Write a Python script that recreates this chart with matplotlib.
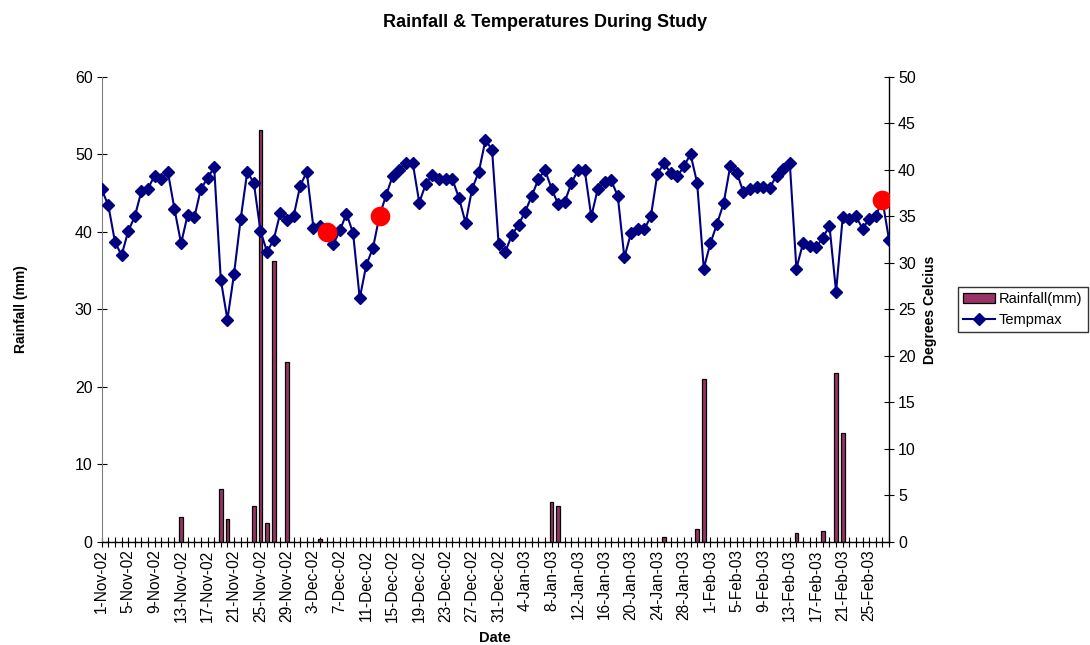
"""Rainfall bars and daily max temperature, Nov 2002 - Feb 2003."""

import matplotlib

matplotlib.use("Agg")
import matplotlib.pyplot as plt
import numpy as np
import pandas as pd

plt.rcParams["font.family"] = ["Liberation Sans", "DejaVu Sans"]

dates = pd.date_range("2002-11-01", "2003-02-28", freq="D")

tempmax = [
    37.9, 36.2, 32.3, 30.8, 33.4, 35.0, 37.7, 38.0, 39.4, 39.0,
    39.8, 35.8, 32.1, 35.2, 34.9, 38.0, 39.1, 40.3, 28.2, 23.9,
    28.8, 34.7, 39.8, 38.6, 33.4, 31.2, 32.5, 35.4, 34.6, 35.0,
    38.3, 39.8, 33.8, 34.0, 33.3, 32.0, 33.5, 35.3, 33.2, 26.2,
    29.8, 31.6, 35.1, 37.3, 39.4, 40.0, 40.8, 40.8, 36.5, 38.5,
    39.5, 39.0, 39.0, 39.0, 37.0, 34.3, 38.0, 39.8, 43.2, 42.2,
    32.0, 31.2, 33.0, 34.1, 35.5, 37.2, 39.0, 40.0, 38.0, 36.3,
    36.6, 38.6, 40.0, 40.0, 35.0, 38.0, 38.7, 38.9, 37.2, 30.6,
    33.2, 33.6, 33.6, 35.0, 39.6, 40.7, 39.7, 39.3, 40.4, 41.7,
    38.6, 29.4, 32.1, 34.2, 36.4, 40.4, 39.7, 37.6, 37.9, 38.2,
    38.2, 38.1, 39.4, 40.1, 40.8, 29.4, 32.1, 31.8, 31.7, 32.7,
    34.0, 26.9, 34.9, 34.7, 35.0, 33.7, 34.7, 35.0, 36.8, 32.5,
]

# days with recorded rain (all other days are 0 mm)
rain_dates = [
    "2002-11-13", "2002-11-19", "2002-11-20", "2002-11-24", "2002-11-25",
    "2002-11-26", "2002-11-27", "2002-11-29", "2002-12-04", "2003-01-08",
    "2003-01-09", "2003-01-25", "2003-01-30", "2003-01-31", "2003-02-14",
    "2003-02-18", "2003-02-20", "2003-02-21",
]
rain_mm = [
    3.2, 6.8, 3.0, 4.6, 53.2,
    2.4, 36.2, 23.2, 0.3, 5.2,
    4.6, 0.6, 1.6, 21.0, 1.2,
    1.4, 21.8, 14.0,
]

# highlighted days on the temperature line
marked_dates = ["2002-12-05", "2002-12-13", "2003-02-27"]


def main() -> None:
    x = np.arange(len(dates))
    rain = pd.Series(0.0, index=dates)
    rain[pd.to_datetime(rain_dates)] = rain_mm
    temp = pd.Series(tempmax, index=dates)
    marked_idx = [dates.get_loc(pd.Timestamp(d)) for d in marked_dates]

    fig = plt.figure(figsize=(10.9, 6.45), dpi=100)
    ax = fig.add_axes([0.0933, 0.16, 0.7223, 0.7206])
    ax2 = ax.twinx()

    ax.bar(x, rain.values, width=0.55, color="#993366", edgecolor="black",
           linewidth=0.9, label="Rainfall(mm)", zorder=2)
    ax2.plot(x, temp.values, color="#000080", marker="D", markersize=6,
             linewidth=1.5, label="Tempmax", zorder=3)
    ax2.scatter(x[marked_idx], temp.values[marked_idx], s=200, color="#ff0000",
                zorder=4, linewidths=0)

    ax.set_xlim(0, len(dates) - 1)
    ax.set_ylim(0, 60)
    ax2.set_ylim(0, 50)
    ax.set_yticks(np.arange(0, 61, 10))
    ax2.set_yticks(np.arange(0, 51, 5))

    ax.set_xticks(x)
    labels = [f"{d.day}-{d.strftime('%b-%y')}" if i % 4 == 0 else "" for i, d in enumerate(dates)]
    ax.set_xticklabels(labels, rotation=90, fontsize=11.2)
    ax.tick_params(axis="x", direction="inout", length=7, width=0.8, pad=2)
    ax.tick_params(axis="y", direction="inout", length=7, width=0.8, labelsize=11.5, pad=3)
    ax2.tick_params(axis="y", direction="inout", length=7, width=0.8, labelsize=11.5, pad=3)

    for a in (ax, ax2):
        a.spines["top"].set_visible(False)
    ax.spines["right"].set_visible(False)
    ax2.spines["left"].set_visible(False)
    ax2.spines["bottom"].set_visible(False)
    ax.spines["left"].set_color("#808080")
    ax.spines["bottom"].set_linewidth(1.0)
    ax2.spines["right"].set_linewidth(1.0)

    ax.set_xlabel("Date", fontsize=10.5, fontweight="bold")
    ax.xaxis.set_label_coords(0.5, -0.192)
    ax.set_ylabel("Rainfall (mm)", fontsize=10, fontweight="bold", labelpad=34)
    ax2.set_ylabel("Degrees Celcius", fontsize=10, fontweight="bold", labelpad=5)
    fig.text(0.5, 0.965, "Rainfall & Temperatures During Study", ha="center",
             va="center", fontsize=13, fontweight="bold")

    h1, l1 = ax.get_legend_handles_labels()
    h2, l2 = ax2.get_legend_handles_labels()
    fig.legend(h1 + h2, l1 + l2, loc="center left", bbox_to_anchor=(0.879, 0.52),
               fontsize=10.5, frameon=True, fancybox=False, edgecolor="black",
               handlelength=2.2, borderpad=0.35, labelspacing=0.45, handletextpad=0.25,
               borderaxespad=0)

    fig.savefig("out.png", dpi=100)
    plt.close(fig)


if __name__ == "__main__":
    main()
